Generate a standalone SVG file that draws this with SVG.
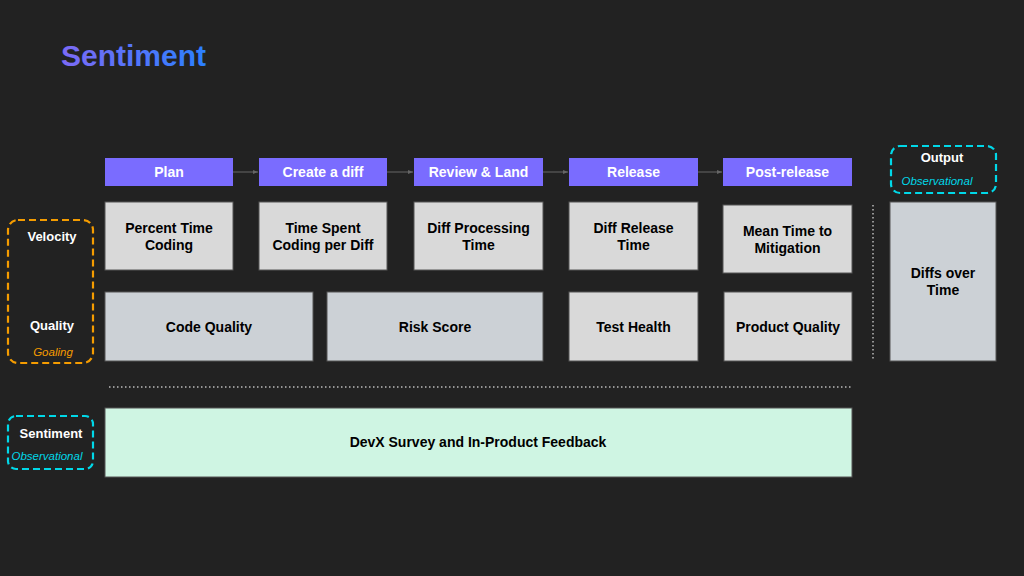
<svg xmlns="http://www.w3.org/2000/svg" width="1024" height="576" viewBox="0 0 1024 576">
<defs>
<linearGradient id="tg" x1="0" y1="0" x2="1" y2="0">
<stop offset="0" stop-color="#7d6af5"/>
<stop offset="1" stop-color="#2b80ff"/>
</linearGradient>
<marker id="ah" markerWidth="6" markerHeight="6" refX="5" refY="3" orient="auto" markerUnits="userSpaceOnUse">
<path d="M0,1 L5,3 L0,5 z" fill="#666"/>
</marker>
<style>
text{font-family:"Liberation Sans",Arial,sans-serif;}
.hd{fill:#7a6cff;}
.hdt{fill:#ffffff;font-size:14px;font-weight:bold;text-anchor:middle;}
.bx{fill:#d9d9d9;stroke:#555;stroke-width:1;}
.bx2{fill:#ccd1d6;stroke:#555;stroke-width:1;}
.bt{fill:#000;font-size:14px;font-weight:bold;text-anchor:middle;}
.lbl{fill:#fff;font-size:13px;font-weight:bold;text-anchor:middle;}
.it{font-size:11.5px;font-style:italic;text-anchor:middle;}
.conn{stroke:#666;stroke-width:1;fill:none;marker-end:url(#ah);}
.dot{stroke:#bbb;stroke-width:1.5;stroke-dasharray:1.5 2.5;fill:none;}
</style>
</defs>
<rect width="1024" height="576" fill="#222222"/>
<text x="61" y="66" font-size="30" font-weight="bold" fill="url(#tg)">Sentiment</text>

<g id="connectors">
<line class="conn" x1="233" y1="172" x2="258" y2="172"/>
<line class="conn" x1="387" y1="172" x2="413" y2="172"/>
<line class="conn" x1="543" y1="172" x2="568" y2="172"/>
<line class="conn" x1="698" y1="172" x2="722" y2="172"/>
<line class="dot" x1="873" y1="205" x2="873" y2="360"/>
<line class="dot" x1="109" y1="387" x2="851" y2="387"/>
</g>

<g id="plan"><rect class="hd" x="105" y="158" width="128" height="28"/><text class="hdt" x="169" y="177">Plan</text></g>
<g id="create"><rect class="hd" x="259" y="158" width="128" height="28"/><text class="hdt" x="323" y="177">Create a diff</text></g>
<g id="review"><rect class="hd" x="414" y="158" width="129" height="28"/><text class="hdt" x="478.5" y="177">Review &amp; Land</text></g>
<g id="release"><rect class="hd" x="569" y="158" width="129" height="28"/><text class="hdt" x="633.5" y="177">Release</text></g>
<g id="postrelease"><rect class="hd" x="723" y="158" width="129" height="28"/><text class="hdt" x="787.5" y="177">Post-release</text></g>

<g id="percent-time"><rect class="bx" x="105" y="202" width="128" height="68"/><text class="bt" x="169" y="233">Percent Time</text><text class="bt" x="169" y="250">Coding</text></g>
<g id="time-spent"><rect class="bx" x="259" y="202" width="128" height="68"/><text class="bt" x="323" y="233">Time Spent</text><text class="bt" x="323" y="250">Coding per Diff</text></g>
<g id="diff-processing"><rect class="bx" x="414" y="202" width="129" height="68"/><text class="bt" x="478.5" y="233">Diff Processing</text><text class="bt" x="478.5" y="250">Time</text></g>
<g id="diff-release"><rect class="bx" x="569" y="202" width="129" height="68"/><text class="bt" x="633.5" y="233">Diff Release</text><text class="bt" x="633.5" y="250">Time</text></g>
<g id="mean-time"><rect class="bx" x="723" y="205" width="129" height="68"/><text class="bt" x="787.5" y="236">Mean Time to</text><text class="bt" x="787.5" y="253">Mitigation</text></g>

<g id="code-quality"><rect class="bx2" x="105" y="292" width="208" height="69"/><text class="bt" x="209" y="332">Code Quality</text></g>
<g id="risk-score"><rect class="bx2" x="327" y="292" width="216" height="69"/><text class="bt" x="435" y="332">Risk Score</text></g>
<g id="test-health"><rect class="bx" x="569" y="292" width="129" height="69"/><text class="bt" x="633.5" y="332">Test Health</text></g>
<g id="product-quality"><rect class="bx" x="724" y="292" width="128" height="69"/><text class="bt" x="788" y="332">Product Quality</text></g>

<g id="diffs-over-time"><rect class="bx2" x="890" y="202" width="106" height="159"/><text class="bt" x="943" y="278">Diffs over</text><text class="bt" x="943" y="295">Time</text></g>

<g id="output"><rect x="891" y="146" width="105" height="47" rx="9" fill="none" stroke="#00d8e8" stroke-width="2.2" stroke-dasharray="7 4"/><text class="lbl" x="942" y="162">Output</text><text class="it" x="937" y="185" fill="#00d8e8">Observational</text></g>

<g id="velocity-quality"><rect x="8" y="220" width="85" height="143" rx="10" fill="none" stroke="#f59c00" stroke-width="2.2" stroke-dasharray="7 4"/><text class="lbl" x="52" y="241">Velocity</text><text class="lbl" x="52" y="330">Quality</text><text class="it" x="53" y="356" fill="#f59c00">Goaling</text></g>

<g id="sentiment"><rect x="8" y="416" width="85" height="53" rx="8" fill="none" stroke="#00d8e8" stroke-width="2.2" stroke-dasharray="7 4"/><text class="lbl" x="51" y="438">Sentiment</text><text class="it" x="47" y="460" fill="#00d8e8">Observational</text></g>

<g id="devx"><rect x="105" y="408" width="747" height="69" fill="#cff5e3" stroke="#555" stroke-width="1"/><text class="bt" x="478" y="447">DevX Survey and In-Product Feedback</text></g>
</svg>
